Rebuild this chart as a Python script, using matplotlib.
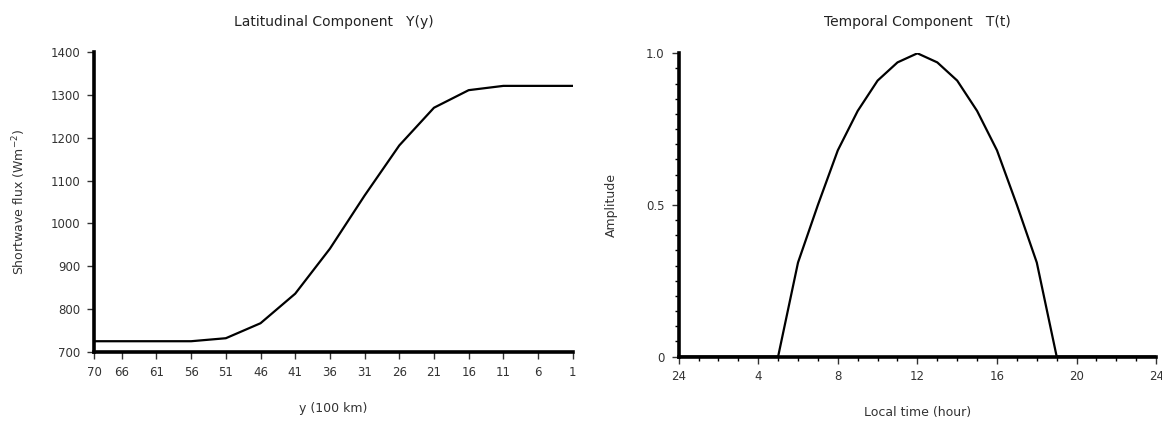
import matplotlib
matplotlib.use('Agg')
import matplotlib.pyplot as plt
import numpy as np
from matplotlib.ticker import MultipleLocator

plt.rcParams['font.family'] = ['DejaVu Sans']

# latitudinal component
y_pos = [70, 66, 61, 56, 51, 46, 41, 36, 31, 26, 21, 16, 11, 6, 1]
flux = [725, 725, 725, 725, 732, 767, 836, 941, 1065, 1182, 1270, 1311, 1321, 1321, 1321]
y_ticks = [70, 66, 61, 56, 51, 46, 41, 36, 31, 26, 21, 16, 11, 6, 1]

# temporal component
hours = [0, 5, 6, 7, 8, 9, 10, 11, 12, 13, 14, 15, 16, 17, 18, 19, 24]
amp = [0, 0, 0.31, 0.5, 0.68, 0.81, 0.91, 0.97, 1.0, 0.97, 0.91, 0.81, 0.68, 0.5, 0.31, 0, 0]
t_ticks = [0, 4, 8, 12, 16, 20, 24]
t_labels = ['24', '4', '8', '12', '16', '20', '24']

fig = plt.figure(figsize=(11.62, 4.23), dpi=100)
ax1 = fig.add_axes([0.0809, 0.168, 0.412, 0.709])
ax2 = fig.add_axes([0.584, 0.157, 0.411, 0.717])

for ax in (ax1, ax2):
    ax.spines['top'].set_visible(False)
    ax.spines['right'].set_visible(False)
    ax.spines['left'].set_linewidth(2.6)
    ax.spines['bottom'].set_linewidth(2.6)
    ax.tick_params(which='major', length=5, width=1, labelsize=8.5, colors='#333333', pad=5)
    ax.tick_params(which='minor', length=3, width=1)

ax1.plot(y_pos, flux, color='black', lw=1.6)
ax1.set_xlim(70, 1)
ax1.set_ylim(700, 1400)
ax1.set_xticks(y_ticks)
ax1.set_yticks(np.arange(700, 1401, 100))
ax1.set_xlabel('y (100 km)', fontsize=9, labelpad=17, color='#333333')
ax1.set_ylabel('Shortwave flux (Wm$^{-2}$)', fontsize=9, labelpad=16, color='#333333')
ax1.set_title('Latitudinal Component   Y(y)', fontsize=10, pad=19, color='#222222')

ax2.plot(hours, amp, color='black', lw=1.6)
ax2.set_xlim(0, 24)
ax2.set_ylim(0, 1.0)
ax2.set_xticks(t_ticks)
ax2.set_xticklabels(t_labels)
ax2.xaxis.set_minor_locator(MultipleLocator(1))
ax2.set_yticks([0, 0.5, 1.0])
ax2.set_yticklabels(['0', '0.5', '1.0'])
ax2.yaxis.set_minor_locator(MultipleLocator(0.05))
ax2.set_xlabel('Local time (hour)', fontsize=9, labelpad=16, color='#333333')
ax2.set_ylabel('Amplitude', fontsize=9, labelpad=20, color='#333333')
ax2.set_title('Temporal Component   T(t)', fontsize=10, pad=20, color='#222222')

fig.savefig('out.png', dpi=100)
